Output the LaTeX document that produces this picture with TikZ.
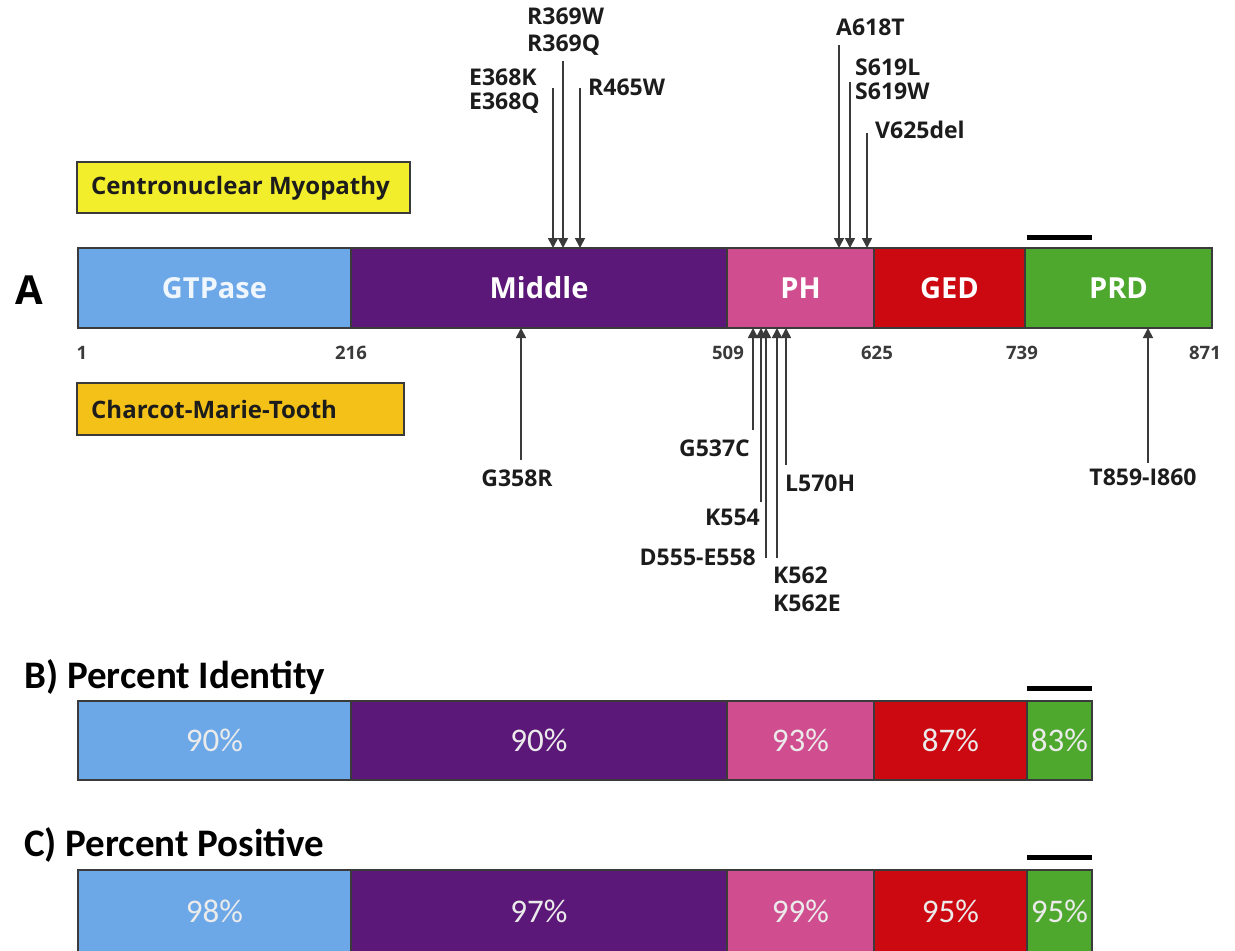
\documentclass[tikz,border=0pt]{standalone}
\usepackage{fontspec}
\setmainfont{Open Sans}
\newfontfamily\calfont{Carlito}
\usetikzlibrary{arrows.meta}
\definecolor{cgtp}{HTML}{6CA8E8}
\definecolor{cmid}{HTML}{5C1878}
\definecolor{cph}{HTML}{D04E8F}
\definecolor{cged}{HTML}{CC0810}
\definecolor{cprd}{HTML}{4EA82E}
\definecolor{cyel}{HTML}{F2EE2C}
\definecolor{corg}{HTML}{F4C118}
\definecolor{ink}{HTML}{1C1C1C}
\definecolor{edge}{HTML}{3A3A3A}
\tikzset{
  seg/.style={draw=edge, line width=1.5pt, anchor=north west, inner sep=0pt, outer sep=0pt,
    text=white, font=\fontsize{29}{33}\bfseries\selectfont},
  pct/.style={seg, text=white!92!black, font=\calfont\fontsize{33}{37}\selectfont},
  mut/.style={text=ink, inner sep=0pt, font=\fontsize{23}{27}\bfseries\selectfont},
  num/.style={text=edge, inner sep=0pt, font=\fontsize{18.5}{22}\bfseries\selectfont},
  dbox/.style={draw=edge, line width=1.5pt, anchor=north west, inner sep=0pt, outer sep=0pt},
  dtext/.style={text=ink, inner sep=0pt, anchor=west, font=\fontsize{24}{28}\bfseries\selectfont},
  head/.style={text=black, inner sep=0pt, anchor=west, font=\calfont\fontsize{39}{44}\bfseries\selectfont},
  marr/.style={draw=edge, line width=1.6pt, -{Triangle[width=10pt,length=10pt]}},
  topbar/.style={line width=5pt, black}
}
\begin{document}
\begin{tikzpicture}[x=1pt,y=-1pt]
\useasboundingbox[fill=white] (0,0) rectangle (1235,951);

% ---------- Panel A ----------
\node[text=black, inner sep=0pt, font=\fontsize{40}{44}\bfseries\selectfont] (lA) at (29,290) {A};
\node[dbox, fill=cyel, minimum width=333pt, minimum height=51pt] (cnm) at (77,162) {};
\node[dtext] (cnmt) at (91,188) {Centronuclear Myopathy};
\node[dbox, fill=corg, minimum width=327pt, minimum height=52pt] (cmt) at (77,383) {};
\node[dtext] (cmtt) at (91,409) {Charcot-Marie-Tooth};

\node[seg, fill=cgtp, minimum width=273pt, minimum height=80pt, text=white!90!cgtp] (gtp) at (78,248) {GTPase};
\node[seg, fill=cmid, minimum width=376pt, minimum height=80pt] (mid) at (351,248) {Middle};
\node[seg, fill=cph, minimum width=147pt, minimum height=80pt] (ph) at (727,248) {PH};
\node[seg, fill=cged, minimum width=151pt, minimum height=80pt] (ged) at (874,248) {GED};
\node[seg, fill=cprd, minimum width=187pt, minimum height=80pt] (prd) at (1025,248) {PRD};
\coordinate (pa1) at (1027,237); \coordinate (pa2) at (1092,237);
\draw[topbar] (pa1) -- (pa2);

\node[num] (n1) at (82,353) {1};
\node[num] (n216) at (351,353) {216};
\node[num] (n509) at (728,353) {509};
\node[num] (n625) at (877,353) {625};
\node[num] (n739) at (1022,353) {739};
\node[num] (n871) at (1205,353) {871};

% top mutations
\node[mut, anchor=west] (r369w) at (527,16) {R369W};
\node[mut, anchor=west] (r369q) at (527,45) {R369Q};
\node[mut, anchor=west] (e368k) at (469,77) {E368K};
\node[mut, anchor=west] (e368q) at (469,103) {E368Q};
\node[mut, anchor=west] (r465w) at (588,87) {R465W};
\node[mut, anchor=west] (a618t) at (836,27) {A618T};
\node[mut, anchor=west] (s619l) at (855,67) {S619L};
\node[mut, anchor=west] (s619w) at (855,91) {S619W};
\node[mut, anchor=west] (v625) at (875,130) {V625del};

\coordinate (s1) at (553,88);  \coordinate (t1) at (553,248);
\coordinate (s2) at (563,61);  \coordinate (t2) at (563,248);
\coordinate (s3) at (580,88);  \coordinate (t3) at (580,248);
\coordinate (s4) at (839,45);  \coordinate (t4) at (839,248);
\coordinate (s5) at (850,82);  \coordinate (t5) at (850,248);
\coordinate (s6) at (867,133); \coordinate (t6) at (867,248);
\foreach \i in {1,...,6} \draw[marr] (s\i) -- (t\i);

% bottom mutations
\node[mut] (g358r) at (517,478) {G358R};
\node[mut, anchor=east] (g537c) at (750,448) {G537C};
\node[mut, anchor=west] (l570h) at (785,483) {L570H};
\node[mut, anchor=east] (k554) at (760,517) {K554};
\node[mut, anchor=east] (d555) at (756,557) {D555-E558};
\node[mut, anchor=west] (k562) at (773,575) {K562};
\node[mut, anchor=west] (k562e) at (773,603) {K562E};
\node[mut] (t859) at (1143,477) {T859-I860};

\coordinate (b1) at (521,460); \coordinate (u1) at (521,328);
\coordinate (b2) at (753,430); \coordinate (u2) at (753,328);
\coordinate (b3) at (761,502); \coordinate (u3) at (761,328);
\coordinate (b4) at (766,558); \coordinate (u4) at (766,328);
\coordinate (b5) at (777,558); \coordinate (u5) at (777,328);
\coordinate (b6) at (786,465); \coordinate (u6) at (786,328);
\coordinate (b7) at (1148,463); \coordinate (u7) at (1148,328);
\foreach \i in {1,...,7} \draw[marr] (b\i) -- (u\i);

% ---------- Panel B ----------
\node[head] (hB) at (24,677) {B) Percent Identity};
\node[pct, fill=cgtp, minimum width=273pt, minimum height=79pt] (bg) at (78,701) {90\%};
\node[pct, fill=cmid, minimum width=376pt, minimum height=79pt] (bm) at (351,701) {90\%};
\node[pct, fill=cph, minimum width=147pt, minimum height=79pt] (bp) at (727,701) {93\%};
\node[pct, fill=cged, minimum width=153pt, minimum height=79pt] (bd) at (874,701) {87\%};
\node[pct, fill=cprd, minimum width=65pt, minimum height=79pt] (br) at (1027,701) {83\%};
\coordinate (pb1) at (1027,688); \coordinate (pb2) at (1092,688);
\draw[topbar] (pb1) -- (pb2);

% ---------- Panel C ----------
\node[head] (hC) at (24,845) {C) Percent Positive};
\node[pct, fill=cgtp, minimum width=273pt, minimum height=82pt] (cg) at (78,870) {98\%};
\node[pct, fill=cmid, minimum width=376pt, minimum height=82pt] (cm) at (351,870) {97\%};
\node[pct, fill=cph, minimum width=147pt, minimum height=82pt] (cp) at (727,870) {99\%};
\node[pct, fill=cged, minimum width=153pt, minimum height=82pt] (cd) at (874,870) {95\%};
\node[pct, fill=cprd, minimum width=65pt, minimum height=82pt] (cr) at (1027,870) {95\%};
\coordinate (pc1) at (1027,857); \coordinate (pc2) at (1092,857);
\draw[topbar] (pc1) -- (pc2);
\end{tikzpicture}
\end{document}
